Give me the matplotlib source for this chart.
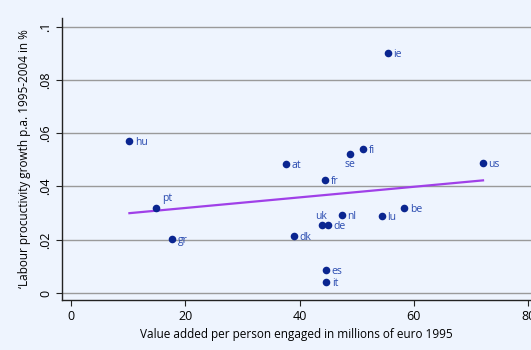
import numpy as np
import matplotlib
matplotlib.use("Agg")
import matplotlib.pyplot as plt

plt.rcParams['font.family'] = ['Open Sans', 'DejaVu Sans']

# countries, value added per person (mio euro 1995), productivity growth p.a.
countries = ["hu", "ie", "at", "se", "fi", "us", "fr", "pt", "gr",
             "uk", "de", "nl", "lu", "be", "dk", "es", "it"]
value_added = [10.2, 55.4, 37.6, 48.8, 51.1, 72.1, 44.5, 14.9, 17.7,
               44.0, 45.0, 47.4, 54.4, 58.3, 39.0, 44.6, 44.7]
growth = [0.057, 0.090, 0.0484, 0.0522, 0.054, 0.0488, 0.0424, 0.0319, 0.0203,
          0.0255, 0.0255, 0.0293, 0.0289, 0.0319, 0.0214, 0.0086, 0.0041]

# label placement (offset in points, alignment)
label_pos = {"pt": (4, 3, "left", "bottom"),
             "uk": (-1, 2, "center", "bottom"),
             "se": (0, -4, "center", "top")}

bg = "#eef4fe"
dot = "#0a2590"
txt = "#2a4bb0"

fig = plt.figure(figsize=(5.31, 3.5), dpi=100, facecolor=bg)
ax = fig.add_axes([62 / 531, 50 / 350, 469 / 531, 282 / 350], facecolor=bg)

ax.scatter(value_added, growth, s=30, color=dot, zorder=3, linewidths=0)
for c, x, y in zip(countries, value_added, growth):
    dx, dy, ha, va = label_pos.get(c, (4, -1, "left", "center"))
    ax.annotate(c, (x, y), xytext=(dx, dy), textcoords="offset points",
                ha=ha, va=va, fontsize=7.5, color=txt, zorder=4)

# linear fit
b, a = np.polyfit(value_added, growth, 1)
xs = np.array([min(value_added), max(value_added)])
ax.plot(xs, a + b * xs, color="#a040e8", lw=1.6, zorder=2)

ax.set_xlim(-1.6, 80.5)
ax.set_ylim(-0.0026, 0.1032)
ax.set_xticks([0, 20, 40, 60, 80])
ax.set_xticklabels(["0", "20", "40", "60", "80"])
ax.set_yticks([0, 0.02, 0.04, 0.06, 0.08, 0.1])
ax.set_yticklabels(["0", ".02", ".04", ".06", ".08", ".1"], rotation=90, va="center")
ax.grid(axis="y", color="#9a9a9a", lw=1.0)
ax.set_axisbelow(True)
for s in ["top", "right"]:
    ax.spines[s].set_visible(False)
for s in ["left", "bottom"]:
    ax.spines[s].set_color("#222222")
    ax.spines[s].set_linewidth(1.0)
ax.tick_params(axis="both", labelsize=9, color="#222222", length=4, pad=3)

ax.set_xlabel("Value added per person engaged in millions of euro 1995", fontsize=8.5, labelpad=4)
ax.set_ylabel("‘Labour procuctivity growth p.a. 1995-2004 in %", fontsize=8.5, labelpad=6)

fig.savefig("out.png", dpi=100, facecolor=bg)
